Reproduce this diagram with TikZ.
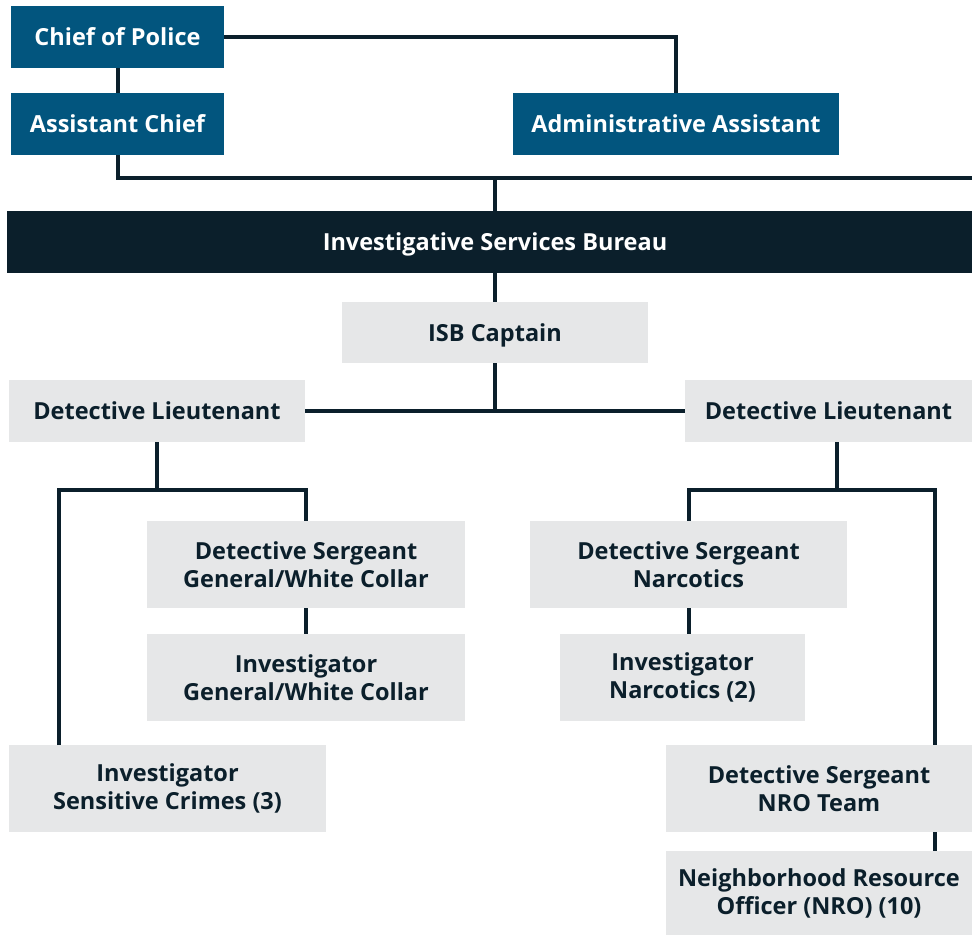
\documentclass[tikz,border=0pt]{standalone}
\usepackage{fontspec}
\setmainfont{Open Sans}
\usepackage{tikz}
\usetikzlibrary{positioning}

\definecolor{chiefblue}{RGB}{2,85,126}
\definecolor{navyink}{RGB}{11,31,43}
\definecolor{paleboard}{RGB}{230,231,232}

\begin{document}
\begin{tikzpicture}[x=1pt, y=-1pt,
        chief_node/.style={rectangle, fill=chiefblue, text=white, inner sep=0pt, align=center, font=\fontsize{23.5}{28}\selectfont\bfseries},
        bureau_node/.style={rectangle, fill=navyink, text=white, inner sep=0pt, align=center, text depth=0pt, font=\fontsize{23.5}{28}\selectfont\bfseries},
        unit_node/.style={rectangle, fill=paleboard, text=navyink, inner sep=0pt, align=center, font=\fontsize{23.5}{28}\selectfont\bfseries},
        link/.style={draw=navyink, line width=4pt}
        ]
            \useasboundingbox (0,0) rectangle (972,935);

            % command
            \node[chief_node, minimum width=213pt, minimum height=62pt]  (chief)   at (117.5,37)  {Chief of Police};
            \node[chief_node, minimum width=213pt, minimum height=62pt]  (asst)    at (117.5,124) {Assistant Chief};
            \node[chief_node, minimum width=326pt, minimum height=62pt]  (admin)   at (676,124)   {Administrative Assistant};
            % bureau
            \node[bureau_node, minimum width=976pt, minimum height=62pt] (bureau)  at (495,242) {Investigative Services Bureau};
            \node[unit_node, text depth=0pt, minimum width=306pt, minimum height=61pt] (captain) at (495,332.5) {ISB Captain};
            \node[unit_node, minimum width=296pt, minimum height=62pt]   (lt_left)  at (157,411)  {Detective Lieutenant};
            \node[unit_node, minimum width=287pt, minimum height=62pt]   (lt_right) at (828.5,411) {Detective Lieutenant};
            % left side
            \node[unit_node, minimum width=318pt, minimum height=87pt]   (sgt_gen)  at (306,564.5) {Detective Sergeant\\General/White Collar};
            \node[unit_node, minimum width=318pt, minimum height=87pt]   (inv_gen)  at (306,677.5) {Investigator\\General/White Collar};
            \node[unit_node, minimum width=317pt, minimum height=87pt]   (inv_sens) at (167.5,788.5) {Investigator\\Sensitive Crimes (3)};
            % right side
            \node[unit_node, minimum width=317pt, minimum height=87pt]   (sgt_narc) at (688.5,564.5) {Detective Sergeant\\Narcotics};
            \node[unit_node, minimum width=245pt, minimum height=87pt]   (inv_narc) at (682.5,677.5) {Investigator\\Narcotics (2)};
            \node[unit_node, minimum width=306pt, minimum height=87pt]   (sgt_nro)  at (819,788.5) {Detective Sergeant\\NRO Team};
            \node[unit_node, minimum width=306pt, minimum height=84pt]   (nro)      at (819,893)  {Neighborhood Resource\\Officer (NRO) (10)};

            % bus points
            \coordinate (top_bus)  at (972,178);
            \coordinate (l_bus)    at (157,490);
            \coordinate (l_drop)   at (59,745);
            \coordinate (r_bus)    at (837,490);
            \coordinate (r_drop)   at (935,745);

            % Lines
            \draw[link] (chief.east) -| (admin.north);
            \draw[link] (chief) -- (asst);
            \draw[link] (asst.south) |- (top_bus);
            \draw[link] (captain.north |- bureau.north) -- (captain.north |- top_bus);
            \draw[link] (captain.north) -- (captain.north |- bureau.south);
            \draw[link] (captain.south) -- (captain.south |- lt_left.east);
            \draw[link] (lt_left.east) -- (lt_right.west);
            % left branch
            \draw[link] (lt_left.south) -- (l_bus);
            \draw[link] (l_drop) |- (l_bus) -| (sgt_gen.north);
            \draw[link] (sgt_gen) -- (inv_gen);
            % right branch
            \draw[link] (lt_right.south -| r_bus) -- (r_bus);
            \draw[link] (sgt_narc.north) |- (r_bus) -| (r_drop);
            \draw[link] (sgt_narc) -- (sgt_narc |- inv_narc.north);
            \draw[link] (sgt_nro.south -| r_drop) -- (nro.north -| r_drop);
        \end{tikzpicture}
\end{document}
